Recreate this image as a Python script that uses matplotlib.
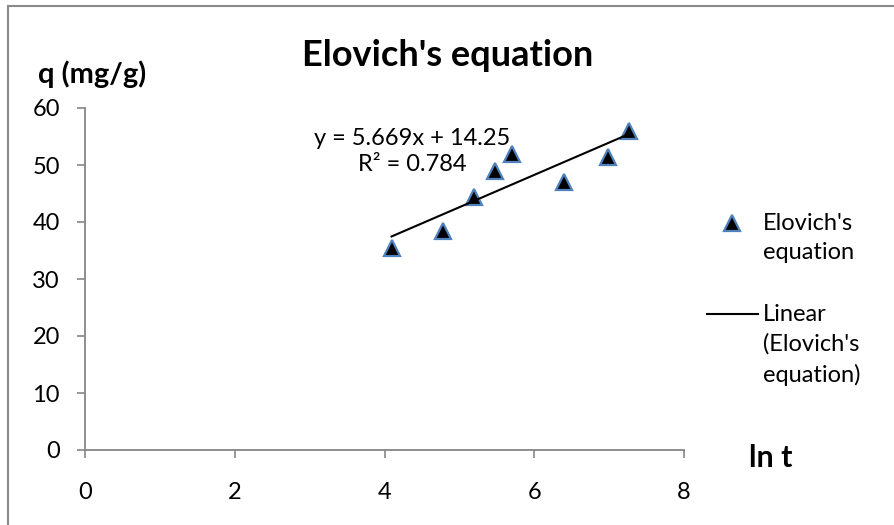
import matplotlib.pyplot as plt
from matplotlib.patches import Rectangle

# ln t values and adsorbed amount q (mg/g)
ln_t = [4.094, 4.787, 5.193, 5.481, 5.704, 6.397, 6.985, 7.272]
q = [35.5, 38.5, 44.4, 49.0, 52.0, 47.1, 51.4, 56.0]

slope = 5.669
intercept = 14.25
r2 = 0.784

x_ticks = [0, 2, 4, 6, 8]
y_ticks = [0, 10, 20, 30, 40, 50, 60]

plt.rcParams['font.family'] = ['Lato', 'DejaVu Sans']

fig = plt.figure(figsize=(8.94, 5.25), dpi=100)
ax = fig.add_axes([85 / 894, 1 - 450 / 525, (684 - 85) / 894, (450 - 108) / 525])

# outer chart border (only left and top visible)
fig.patches.append(Rectangle((8 / 894, -0.1), 1.2, 1 - 6 / 525 + 0.1,
                             transform=fig.transFigure, fill=False,
                             edgecolor='#898989', linewidth=1.5))

ax.plot(ln_t, q, linestyle='none', marker='^', markersize=11,
        markerfacecolor='black', markeredgecolor='#4F81BD',
        markeredgewidth=1.6, label="Elovich's\nequation")

x_fit = [min(ln_t), max(ln_t)]
y_fit = [slope * x + intercept for x in x_fit]
ax.plot(x_fit, y_fit, color='black', linewidth=1.5,
        label="Linear\n(Elovich's\nequation)")

ax.set_xlim(0, 8)
ax.set_ylim(0, 60)
ax.set_xticks(x_ticks)
ax.set_yticks(y_ticks)

for s in ['top', 'right']:
    ax.spines[s].set_visible(False)
for s in ['left', 'bottom']:
    ax.spines[s].set_color('#868686')
    ax.spines[s].set_linewidth(1.3)
ax.tick_params(axis='both', direction='out', length=6, width=1.2,
               color='#868686', labelsize=17, labelcolor='black')
ax.tick_params(axis='x', pad=17)
ax.tick_params(axis='y', pad=12)

fig.text(448 / 894, 1 - 55 / 525, "Elovich's equation", ha='center',
         va='center', fontsize=26, fontweight='bold')
fig.text(92 / 894, 1 - 74 / 525, "q (mg/g)", ha='center', va='center',
         fontsize=21, fontweight='bold')
fig.text(771 / 894, 1 - 458 / 525, "ln t", ha='center', va='center',
         fontsize=22, fontweight='bold')

ax.text(4.37, 52.4, f"y = {slope}x + {intercept}\nR² = {r2}", ha='center',
        va='center', fontsize=17, linespacing=1.3)

leg = ax.legend(loc='upper left', bbox_to_anchor=(1.038, 0.693),
                frameon=False, fontsize=17, handlelength=2.18,
                handleheight=1.2, handletextpad=0.2, labelspacing=1.7,
                borderaxespad=0, borderpad=0)
for t in leg.get_texts():
    t.set_linespacing(1.5)
# put each legend key next to the first line of its label
for col in leg._legend_handle_box.get_children():
    for row in col.get_children():
        row.align = 'top'

fig.savefig('out.png', dpi=100)
